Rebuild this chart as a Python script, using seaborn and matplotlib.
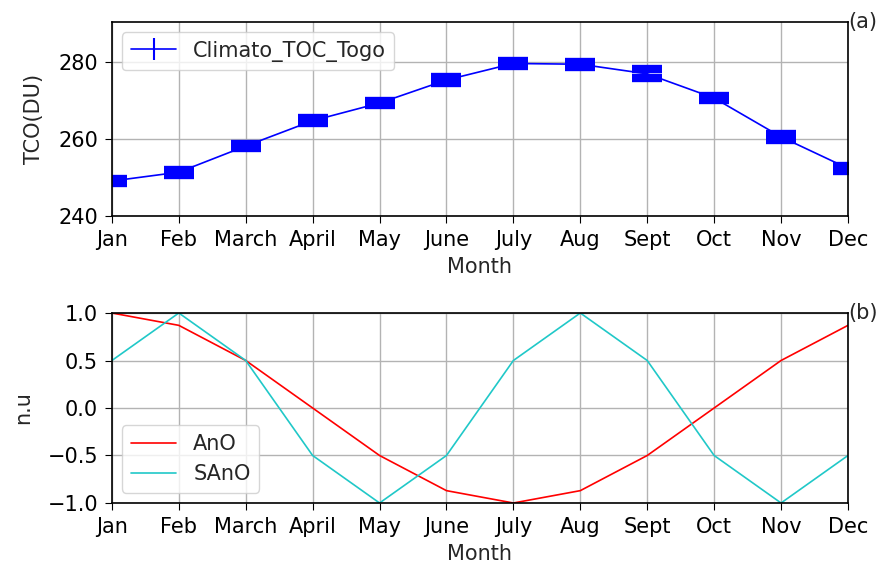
import numpy as np
import pandas as pd
import matplotlib
matplotlib.use('Agg')
import matplotlib.pyplot as plt
import seaborn as sns

months = ['Jan', 'Feb', 'March', 'April', 'May', 'June', 'July', 'Aug', 'Sept', 'Oct', 'Nov', 'Dec']
tco = [249.1, 251.4, 258.2, 264.8, 269.4, 275.4, 279.7, 279.5, 277.0, 270.7, 260.6, 252.4]
tco_err = [0.6, 0.7, 0.6, 0.6, 0.6, 0.9, 0.6, 0.6, 1.2, 0.6, 0.7, 0.6]
ano = [1.0, 0.87, 0.5, 0.0, -0.5, -0.87, -1.0, -0.87, -0.5, 0.0, 0.5, 0.87]
sano = [0.5, 1.0, 0.5, -0.5, -1.0, -0.5, 0.5, 1.0, 0.5, -0.5, -1.0, -0.5]

sns.set_style('ticks')
plt.rcParams['font.family'] = ['DejaVu Sans']
plt.rcParams['font.size'] = 15

x = np.arange(len(months))
df = pd.DataFrame({'month': x, 'AnO': ano, 'SAnO': sano})

fig = plt.figure(figsize=(8.81, 5.74), dpi=100)
ax1 = fig.add_axes([0.127, 0.6237, 0.8355, 0.338])
ax2 = fig.add_axes([0.127, 0.1237, 0.8355, 0.331])

ax1.errorbar(x, tco, yerr=tco_err, color='blue', lw=1.2, elinewidth=1.5,
             capsize=11, capthick=6)
# legend proxy: line with a small vertical bar
ax1.plot([], [], color='blue', lw=1.2, marker='|', markersize=16, mew=1.5,
         label='Climato_TOC_Togo')
ax1.set_xlim(0, 11)
ax1.set_ylim(240, 290.5)
ax1.set_yticks([240, 260, 280])
ax1.set_xticks(x)
ax1.set_xticklabels(months)
ax1.set_xlabel('Month', labelpad=5)
ax1.set_ylabel('TCO(DU)', labelpad=10)
ax1.grid(True, color='0.7', lw=1)
ax1.legend(loc='upper left', handlelength=2.2)
ax1.text(1.0, 1.0, '(a)', transform=ax1.transAxes, ha='left', va='center')

sns.lineplot(data=df, x='month', y='AnO', ax=ax2, color='red', lw=1.2, label='AnO')
sns.lineplot(data=df, x='month', y='SAnO', ax=ax2, color='#20c8c8', lw=1.2, label='SAnO')
ax2.set_xlim(0, 11)
ax2.set_ylim(-1.0, 1.0)
ax2.set_yticks([-1.0, -0.5, 0.0, 0.5, 1.0])
ax2.set_xticks(x)
ax2.set_xticklabels(months)
ax2.set_xlabel('Month', labelpad=5)
ax2.set_ylabel('n.u', labelpad=10)
ax2.grid(True, color='0.7', lw=1)
ax2.legend(loc='lower left', handlelength=2.2)
ax2.text(1.0, 1.0, '(b)', transform=ax2.transAxes, ha='left', va='center')

for ax in (ax1, ax2):
    for s in ax.spines.values():
        s.set_color('black')
        s.set_linewidth(1.2)
    ax.tick_params(colors='black', direction='out', length=5, pad=5)

fig.savefig('out.png', dpi=100)
